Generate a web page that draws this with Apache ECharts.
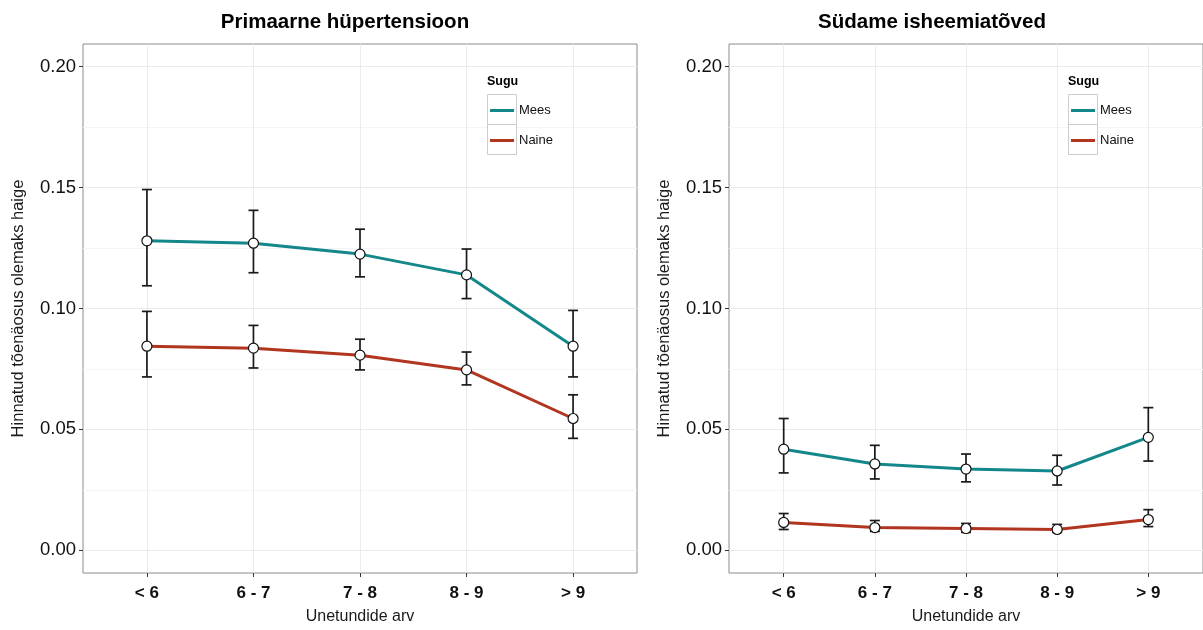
<!DOCTYPE html>
<html><head><meta charset="utf-8">
<script src="https://cdn.jsdelivr.net/npm/echarts@6/dist/echarts.min.js"></script>
<style>html,body{margin:0;padding:0;background:#fff}#c{width:1203px;height:630px}</style>
</head><body><div id="c"></div>
<script>
// ---- data ----
const categories = ['< 6', '6 - 7', '7 - 8', '8 - 9', '> 9'];
const panelTitles = ['Primaarne hüpertensioon', 'Südame isheemiatõved'];
const xTitle = 'Unetundide arv';
const yTitle = 'Hinnatud tõenäosus olemaks haige';
const legendTitle = 'Sugu';
const seriesNames = ['Mees', 'Naine'];
const yTicks = [0, 0.05, 0.10, 0.15, 0.20];
const yMinorTicks = [0.025, 0.075, 0.125, 0.175];

// Panel 1: Primaarne hüpertensioon
const hyperMees = [0.1280, 0.1270, 0.1225, 0.1139, 0.0844];
const hyperMeesLow = [0.1094, 0.1148, 0.1131, 0.1041, 0.0717];
const hyperMeesHigh = [0.1492, 0.1406, 0.1328, 0.1246, 0.0992];
const hyperNaine = [0.0844, 0.0836, 0.0807, 0.0746, 0.0545];
const hyperNaineLow = [0.0717, 0.0754, 0.0746, 0.0684, 0.0463];
const hyperNaineHigh = [0.0988, 0.0930, 0.0873, 0.0820, 0.0643];

// Panel 2: Südame isheemiatõved
const heartMees = [0.0418, 0.0357, 0.0336, 0.0328, 0.0467];
const heartMeesLow = [0.0320, 0.0295, 0.0283, 0.0270, 0.0369];
const heartMeesHigh = [0.0545, 0.0434, 0.0398, 0.0393, 0.0590];
const heartNaine = [0.0115, 0.0094, 0.0090, 0.0086, 0.0127];
const heartNaineLow = [0.0086, 0.0078, 0.0074, 0.0074, 0.0098];
const heartNaineHigh = [0.0152, 0.0123, 0.0111, 0.0107, 0.0168];

// ---- styling ----
const FONT = '"Liberation Sans", Arial, Helvetica, sans-serif';
const COL_MEES = '#14878a';
const COL_NAINE = '#b1351f';
const catPos = categories.map((c, i) => i + 1);

const grids = [
  { left: 83, top: 44, width: 554, height: 534 },
  { left: 729, top: 44, width: 481, height: 534 }
];

const xAxes = [], yAxes = [], series = [];
grids.forEach((g, gi) => {
  xAxes.push({
    type: 'value', gridIndex: gi, min: 0.4, max: 5.6, position: 'bottom',
    name: xTitle, nameLocation: 'middle', nameGap: 36,
    nameTextStyle: { fontFamily: FONT, fontSize: 16, color: '#1a1a1a' },
    axisLine: { show: false, onZero: false },
    axisTick: { show: true, inside: false, customValues: catPos, length: 4, lineStyle: { color: '#333', width: 1 } },
    axisLabel: { customValues: catPos, margin: 12, fontFamily: FONT, fontSize: 17, fontWeight: 'bold', color: '#111',
      formatter: v => categories[Math.round(v) - 1] },
    splitLine: { show: true, lineStyle: { color: '#ebebeb', width: 1 } }
  });
  yAxes.push({
    type: 'value', gridIndex: gi, min: -0.0094, max: 0.2094, position: 'left',
    name: yTitle, nameLocation: 'middle', nameGap: 56,
    nameTextStyle: { fontFamily: FONT, fontSize: 16.5, color: '#1a1a1a' },
    axisLine: { show: false, onZero: false },
    axisTick: { show: true, inside: false, customValues: yTicks, length: 4, lineStyle: { color: '#333', width: 1 } },
    axisLabel: { customValues: yTicks, margin: 7, fontFamily: FONT, fontSize: 18.5, color: '#111',
      formatter: v => v.toFixed(2) },
    splitLine: { show: true, lineStyle: { color: '#ebebeb', width: 1 } }
  });
  // minor grid axis
  yAxes.push({
    type: 'value', gridIndex: gi, min: -0.0094, max: 0.2094, position: 'left',
    axisLine: { show: false, onZero: false },
    axisTick: { show: false, customValues: yMinorTicks },
    axisLabel: { show: false, customValues: yMinorTicks },
    splitLine: { show: true, lineStyle: { color: '#f4f4f4', width: 1 } }
  });
});

function lineSeries(name, xi, yi, vals, color) {
  return {
    type: 'line', name: name, xAxisIndex: xi, yAxisIndex: yi,
    data: vals.map((v, i) => [catPos[i], v]),
    showSymbol: false, symbol: 'none', z: 2, silent: true,
    lineStyle: { color: color, width: 3 }, itemStyle: { color: color }
  };
}
function errSeries(name, xi, yi, low, high) {
  return {
    type: 'custom', name: name, xAxisIndex: xi, yAxisIndex: yi, z: 3, silent: true,
    data: low.map((l, i) => [catPos[i], l, high[i]]),
    encode: { x: 0, y: [1, 2] },
    renderItem: function (params, api) {
      const x = api.value(0);
      const lo = api.coord([x, api.value(1)]);
      const hi = api.coord([x, api.value(2)]);
      const hw = 5;
      const st = { stroke: '#1a1a1a', lineWidth: 1.7 };
      return {
        type: 'group', children: [
          { type: 'line', shape: { x1: lo[0], y1: lo[1], x2: hi[0], y2: hi[1] }, style: st },
          { type: 'line', shape: { x1: lo[0] - hw, y1: lo[1], x2: lo[0] + hw, y2: lo[1] }, style: st },
          { type: 'line', shape: { x1: hi[0] - hw, y1: hi[1], x2: hi[0] + hw, y2: hi[1] }, style: st }
        ]
      };
    }
  };
}
function pointSeries(name, xi, yi, vals) {
  return {
    type: 'scatter', name: name, xAxisIndex: xi, yAxisIndex: yi, z: 4, silent: true,
    data: vals.map((v, i) => [catPos[i], v]),
    symbol: 'circle', symbolSize: 10,
    itemStyle: { color: '#ffffff', borderColor: '#111', borderWidth: 1.2, opacity: 1 }
  };
}

const panels = [
  [hyperMees, hyperMeesLow, hyperMeesHigh, hyperNaine, hyperNaineLow, hyperNaineHigh],
  [heartMees, heartMeesLow, heartMeesHigh, heartNaine, heartNaineLow, heartNaineHigh]
];
panels.forEach((p, gi) => {
  const yi = gi * 2;
  series.push(lineSeries('Mees', gi, yi, p[0], COL_MEES));
  series.push(lineSeries('Naine', gi, yi, p[3], COL_NAINE));
  series.push(errSeries('Mees err', gi, yi, p[1], p[2]));
  series.push(errSeries('Naine err', gi, yi, p[4], p[5]));
  series.push(pointSeries('Mees pts', gi, yi, p[0]));
  series.push(pointSeries('Naine pts', gi, yi, p[3]));
});

const legendPos = [487, 1068];
const legends = legendPos.map(lx => ({
  orient: 'vertical', left: lx + 3, top: 104, itemGap: 17, padding: 0,
  itemWidth: 24, itemHeight: 3, icon: 'rect', selectedMode: false,
  data: seriesNames,
  textStyle: { fontFamily: FONT, fontSize: 13, color: '#111' }
}));

const graphics = [];
panelTitles.forEach((t, i) => {
  graphics.push({ type: 'text', x: [345, 932][i], y: 22, z: 10,
    style: { text: t, textAlign: 'center', textVerticalAlign: 'middle',
      font: 'bold 20.5px ' + FONT, fill: '#000' } });
});
legendPos.forEach(lx => {
  graphics.push({ type: 'text', x: lx, y: 82, z: 10,
    style: { text: legendTitle, textAlign: 'left', textVerticalAlign: 'middle', font: 'bold 12.5px ' + FONT, fill: '#000' } });
  graphics.push({ type: 'rect', z: 1, shape: { x: lx + 0.5, y: 94.5, width: 29, height: 30 },
    style: { fill: '#fff', stroke: '#cccccc', lineWidth: 1 } });
  graphics.push({ type: 'rect', z: 1, shape: { x: lx + 0.5, y: 124.5, width: 29, height: 30 },
    style: { fill: '#fff', stroke: '#cccccc', lineWidth: 1 } });
});

const chart = echarts.init(document.getElementById('c'), null, { renderer: 'canvas' });
chart.setOption({
  backgroundColor: '#ffffff',
  animation: false,
  grid: grids.map(g => Object.assign({ show: true, borderColor: '#8c8c8c', borderWidth: 1, backgroundColor: 'transparent', containLabel: false }, g)),
  xAxis: xAxes,
  yAxis: yAxes,
  legend: legends,
  graphic: graphics,
  series: series
});
</script>
</body></html>
